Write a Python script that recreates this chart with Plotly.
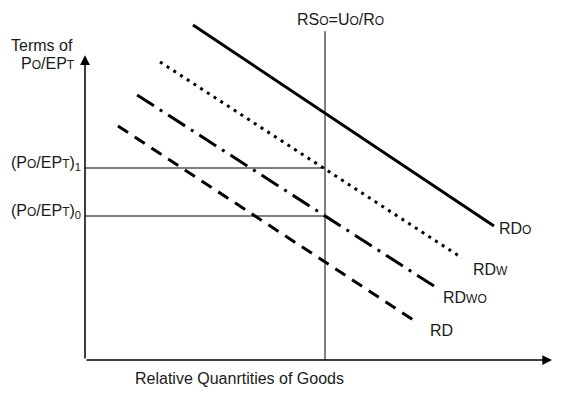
import plotly.graph_objects as go

# ---- data (conceptual units: quantity on x, relative price on y) ----
curve_names = ["RDo", "RDw", "RDwo", "RD"]
curve_x = [[4.5, 17.04], [3.125, 15.71], [2.17, 14.67], [1.375, 13.875]]
curve_y = [[13.96, 5.58], [12.42, 4.25], [11.04, 3.0], [9.75, 1.54]]
curve_dash = ["solid", "3px,5px", "20px,7px,3px,7px", "12px,8px"]
SM = "<span style='font-size:12px'>{}</span>"
curve_labels = ["RD" + SM.format("O"),
                "RD" + SM.format("W"),
                "RD" + SM.format("WO"),
                "RD"]
label_x = [17.17, 16.08, 14.83, 14.29]
label_y = [5.5, 3.79, 2.62, 1.21]

rs_x = 10.0          # vertical supply line
price_levels = [8.0, 6.0]
price_labels = ["(P" + SM.format("O") + "/EP" + SM.format("T") + ")<sub>1</sub>",
                "(P" + SM.format("O") + "/EP" + SM.format("T") + ")<sub>0</sub>"]
x_axis_end = 19.46
y_axis_end = 12.7
rs_top = 13.7

unit = 24.0
PAD = 8                      # browser body margin
W, H = 564 - PAD, 405 - PAD
ox, oy = 85 - PAD, 360 - PAD
x_range = [-ox / unit, (W - ox) / unit]
y_range = [(oy - H) / unit, oy / unit]

font = dict(family="Liberation Sans, Arial, sans-serif", size=16, color="#1a1a1a")

fig = go.Figure()

for xs, ys, d in zip(curve_x, curve_y, curve_dash):
    fig.add_trace(go.Scatter(x=xs, y=ys, mode="lines",
                             line=dict(color="black", width=3, dash=d),
                             hoverinfo="skip", showlegend=False))

# vertical RS line
fig.add_trace(go.Scatter(x=[rs_x, rs_x], y=[0, rs_top], mode="lines",
                         line=dict(color="black", width=1), showlegend=False))
# horizontal price lines
for p in price_levels:
    fig.add_trace(go.Scatter(x=[0, rs_x], y=[p, p], mode="lines",
                             line=dict(color="black", width=1), showlegend=False))

annotations = []
# axes arrows
annotations.append(dict(x=0, y=y_axis_end, ax=0, ay=0, xref="x", yref="y",
                        axref="x", ayref="y", showarrow=True, arrowhead=2,
                        arrowsize=1.3, arrowwidth=1.5, arrowcolor="black", text=""))
annotations.append(dict(x=x_axis_end, y=0, ax=0, ay=0, xref="x", yref="y",
                        axref="x", ayref="y", showarrow=True, arrowhead=2,
                        arrowsize=1.3, arrowwidth=1.5, arrowcolor="black", text=""))

for t, lx, ly in zip(curve_labels, label_x, label_y):
    annotations.append(dict(x=lx, y=ly, text=t, showarrow=False, xanchor="left",
                            yanchor="middle", font=font))
for t, p in zip(price_labels, price_levels):
    annotations.append(dict(x=-0.08, y=p + 0.2, text=t, showarrow=False,
                            xanchor="right", yanchor="middle", font=font))

annotations.append(dict(x=10.63, y=14.2, showarrow=False, font=font,
                        text="RS" + SM.format("O") + "=U" + SM.format("O") + "/R" + SM.format("O")))
annotations.append(dict(x=-1.79, y=13.125, text="Terms of", showarrow=False, font=font))
annotations.append(dict(x=-1.55, y=12.375, showarrow=False, font=font,
                        text="P" + SM.format("O") + "/EP" + SM.format("T")))
annotations.append(dict(x=6.42, y=-0.75, text="Relative Quanrtities of Goods",
                        showarrow=False, font=font))

fig.update_layout(
    width=W, height=H, margin=dict(l=0, r=0, t=0, b=0),
    paper_bgcolor="white", plot_bgcolor="white",
    xaxis=dict(range=x_range, visible=False, fixedrange=True),
    yaxis=dict(range=y_range, visible=False, fixedrange=True),
    annotations=annotations, showlegend=False,
)

fig.write_html("out.html")
